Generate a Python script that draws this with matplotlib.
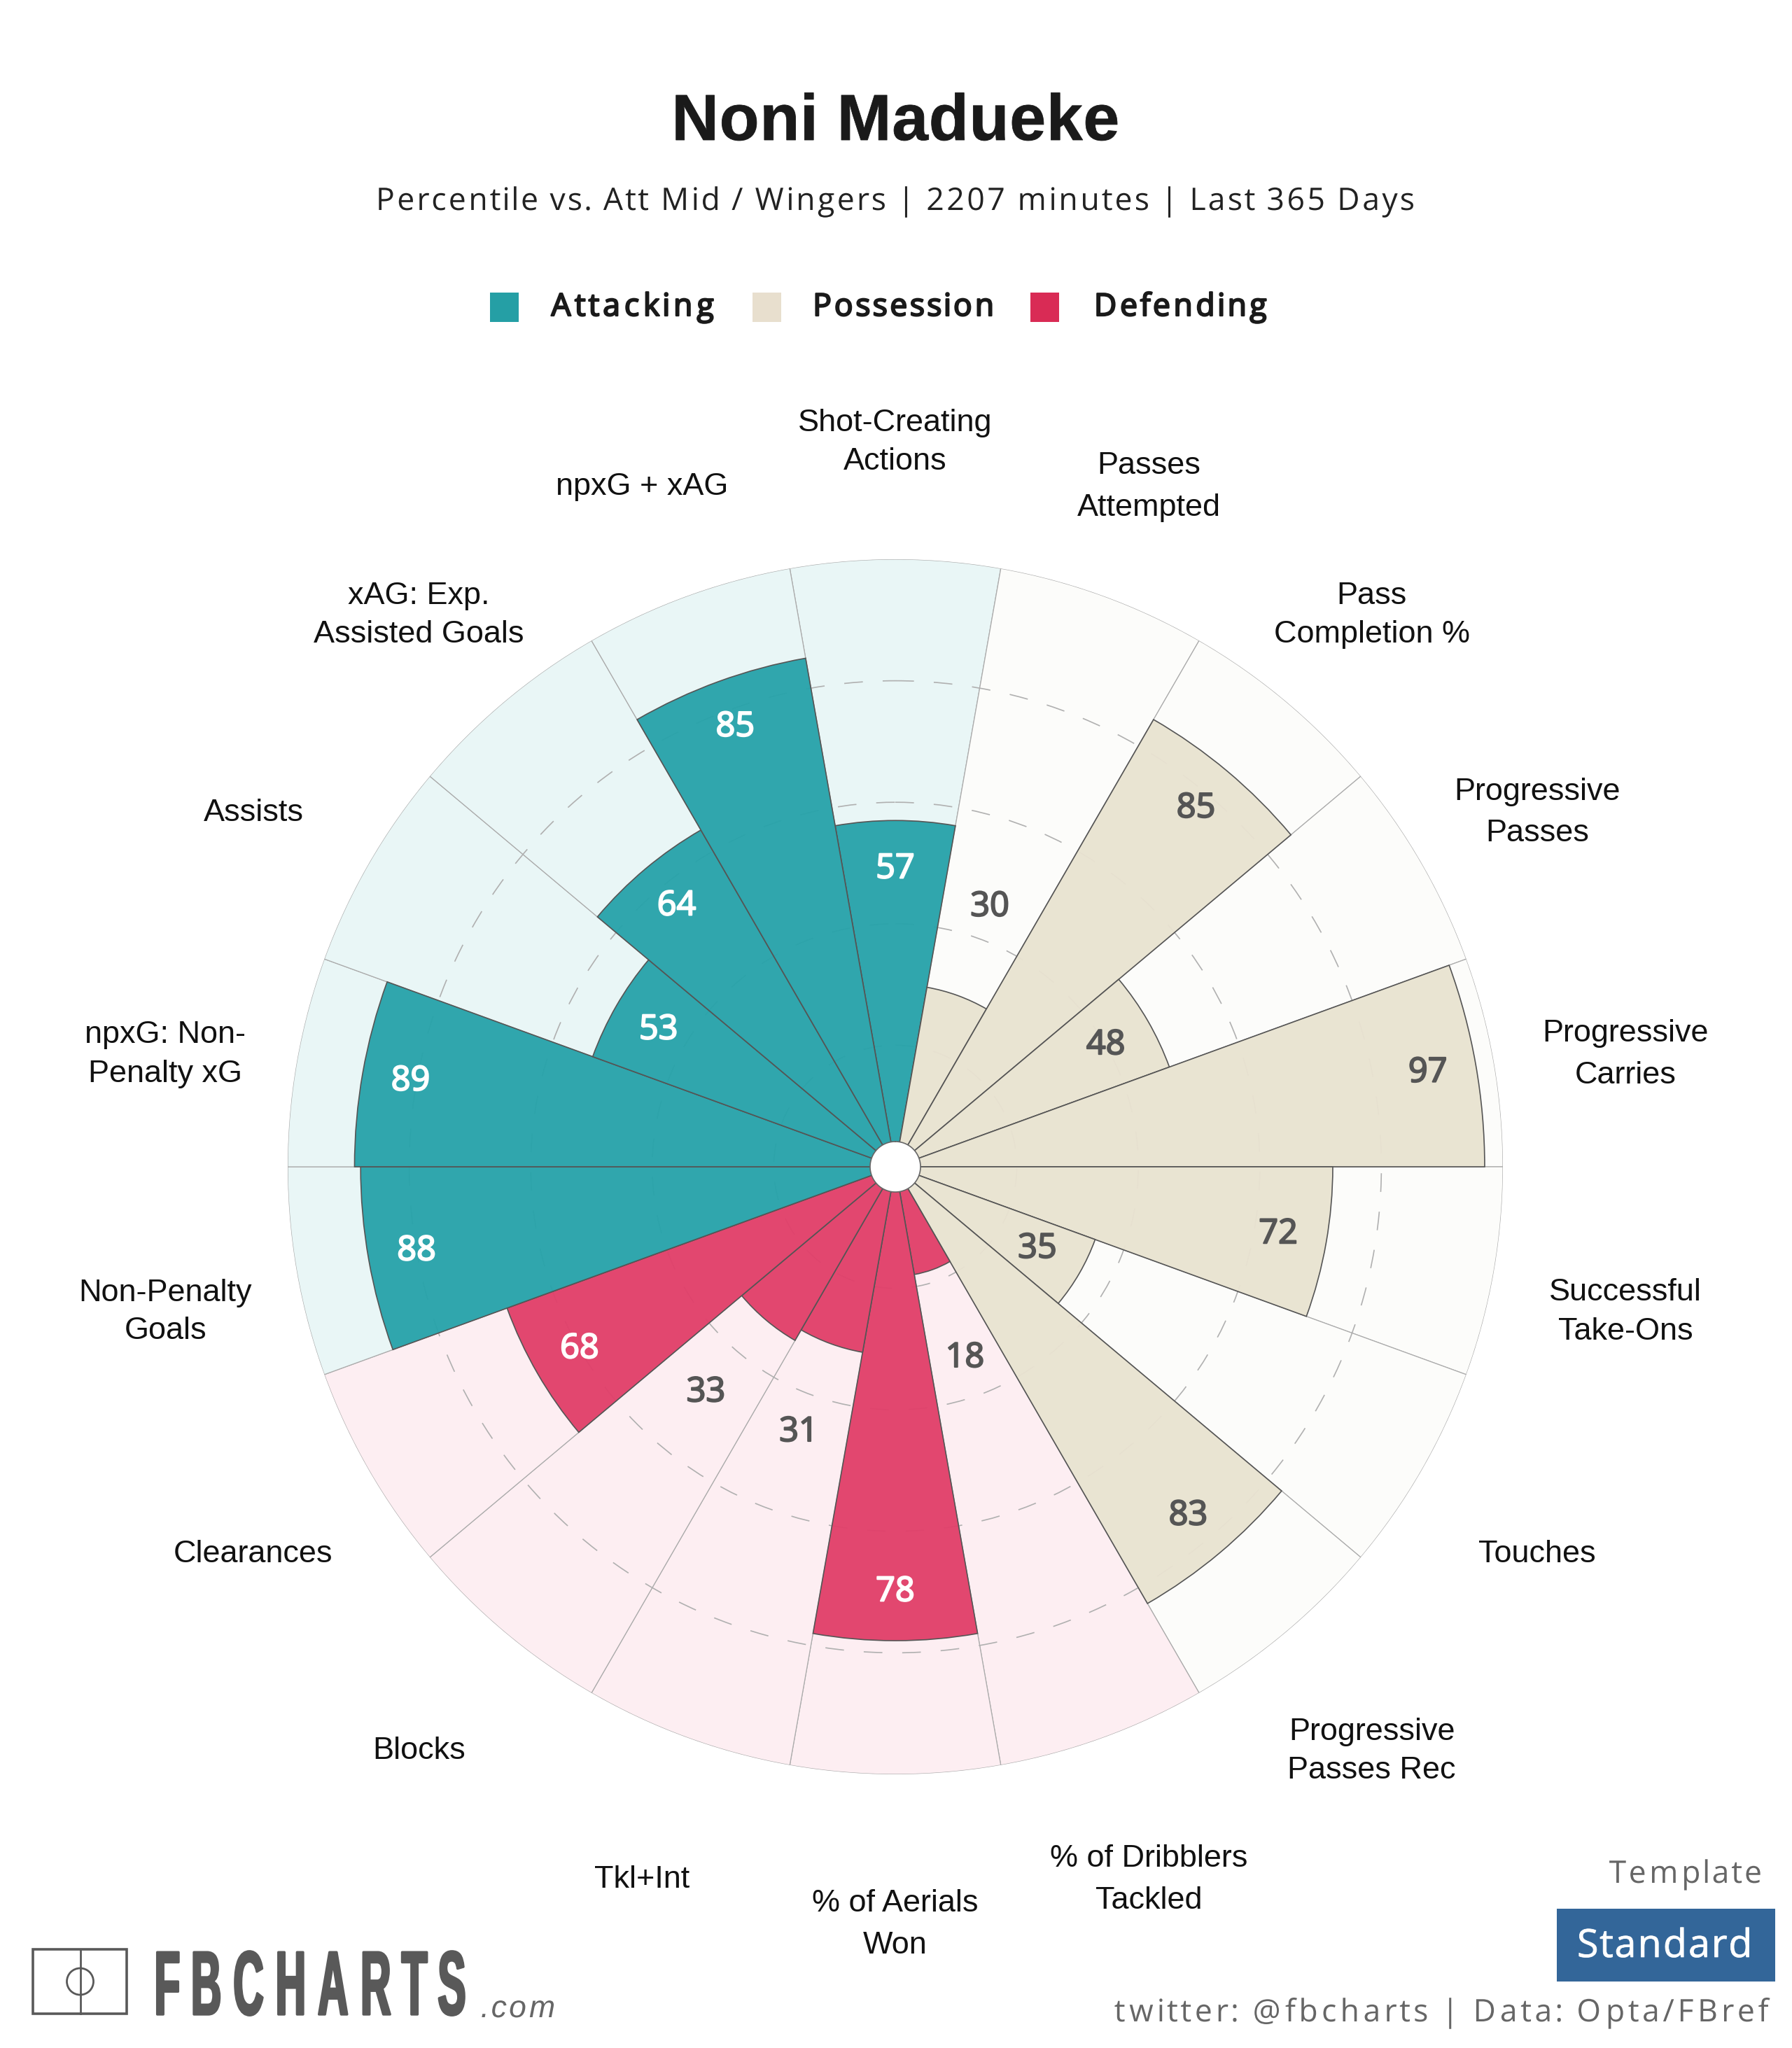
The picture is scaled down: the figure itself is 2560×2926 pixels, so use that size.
import numpy as np
import matplotlib
matplotlib.use("Agg")
import matplotlib.pyplot as plt
from matplotlib.patches import Rectangle, Ellipse
from matplotlib.lines import Line2D
from matplotlib.path import Path
from matplotlib.patheffects import AbstractPathEffect, Stroke, Normal
from matplotlib.transforms import IdentityTransform, Bbox

# ---------- data ----------
categories = ["Shot-Creating\nActions", "Passes\nAttempted", "Pass\nCompletion %",
              "Progressive\nPasses", "Progressive\nCarries", "Successful\nTake-Ons",
              "Touches", "Progressive\nPasses Rec", "% of Dribblers\nTackled",
              "% of Aerials\nWon", "Tkl+Int", "Blocks", "Clearances",
              "Non-Penalty\nGoals", "npxG: Non-\nPenalty xG", "Assists",
              "xAG: Exp.\nAssisted Goals", "npxG + xAG"]
values = [57, 30, 85, 48, 97, 72, 35, 83, 18, 78, 31, 33, 68, 88, 89, 53, 64, 85]
groups = ["A", "P", "P", "P", "P", "P", "P", "P", "D", "D", "D", "D", "D", "A", "A", "A", "A", "A"]
group_names = {"A": "Attacking", "P": "Possession", "D": "Defending"}
grid_ticks = [20, 40, 60, 80]

# ---------- styles ----------
bar_colors = {"A": "#28A3AA", "P": "#E9E3D1", "D": "#E1406A"}
bg_colors = {"A": "#E9F6F6", "P": "#FCFCFA", "D": "#FDEEF2"}
legend_colors = {"A": "#259FA5", "P": "#E8DFCE", "D": "#D92B55"}
value_colors = {"A": "white", "P": "#555555", "D": "white"}
label_spacing = [1.44, 1.58, 1.44, 1.58, 1.58, 1.44, 1.2, 1.44, 1.58, 1.58, 1.2, 1.2, 1.2,
                 1.4, 1.48, 1.2, 1.44, 1.2]

W, H = 2560, 2926
DPI = 200
plt.rcParams["font.family"] = ["Liberation Sans", "DejaVu Sans"]


class Track(AbstractPathEffect):
    """Letter-spacing for one text: spreads glyphs about x0, scales each by gsx (and gsy about
    the baseline y0), optional stroke."""
    def __init__(self, ps, x0, gsx=1.0, stroke=0.0, gsy=1.0, y0=0.0):
        super().__init__()
        self.ps, self.x0, self.gsx, self.stroke = ps, x0, gsx, stroke
        self.gsy, self.y0 = gsy, y0

    def draw_path(self, renderer, gc, tpath, affine, rgbFace=None):
        p = affine.transform_path(tpath)
        v = np.array(p.vertices, dtype=float)
        c = p.codes
        starts = np.flatnonzero(c == Path.MOVETO)
        ends = np.append(starts[1:], len(v))
        subs = []
        for s, e in zip(starts, ends):
            m = c[s:e] != Path.CLOSEPOLY
            xs = v[s:e][m, 0]
            subs.append((xs.min(), xs.max(), s, e))
        subs.sort()
        glyphs = []
        for sub in subs:
            if glyphs and sub[0] < glyphs[-1][1]:
                glyphs[-1][1] = max(glyphs[-1][1], sub[1])
                glyphs[-1][2].append(sub)
            else:
                glyphs.append([sub[0], sub[1], [sub]])
        out = v.copy()
        for a, b, parts in glyphs:
            mid = (a + b) / 2
            new_mid = self.x0 + (mid - self.x0) * self.ps
            for _, _, s, e in parts:
                out[s:e, 0] = new_mid + (v[s:e, 0] - mid) * self.gsx
        if self.gsy != 1.0:
            out[:, 1] = self.y0 + (v[:, 1] - self.y0) * self.gsy
        np_path = Path(out, c)
        gc0 = renderer.new_gc()
        gc0.copy_properties(gc)
        if self.stroke and rgbFace is not None:
            gc0.set_linewidth(self.stroke)
            gc0.set_foreground(rgbFace)
        renderer.draw_path(gc0, np_path, IdentityTransform(), rgbFace)
        gc0.restore()


fig = plt.figure(figsize=(W / DPI, H / DPI), dpi=DPI, facecolor="white")
canvas_renderer = fig.canvas.get_renderer()


def fx(x):
    return x / W


def fy(y):
    return 1 - y / H


def fit_text(s, x0, x1, y, gsx=1.0, stroke=0.0, gsy=1.0, **kw):
    """Real text whose drawn span runs from pixel x0 to pixel x1."""
    xa = (x0 + x1) / 2
    t = fig.text(fx(xa), fy(y), s, ha="center", va="baseline", **kw)
    orig = t.get_window_extent
    bb = orig(canvas_renderer)
    ps = (x1 - x0) / bb.width
    t.set_path_effects([Track(ps, xa, gsx, stroke, gsy, H - y)])

    def extent(renderer=None, dpi=None):
        b = orig(renderer, dpi)
        return Bbox.from_extents(x0, b.y0, x1, b.y1)
    t.get_window_extent = extent
    return t


CX, CY, R = 1279, 1667, 868
ax = fig.add_axes([fx(CX - R), fy(CY + R), 2 * R / W, 2 * R / H], projection="polar")
ax.set_theta_zero_location("N")
ax.set_theta_direction(-1)
ax.set_ylim(0, 100)
ax.patch.set_alpha(0)
ax.spines["polar"].set_visible(False)

n = len(values)
theta = np.deg2rad(np.arange(n) * 360 / n)
width = 2 * np.pi / n

ax.bar(theta, [100] * n, width=width, color=[bg_colors[g] for g in groups],
       edgecolor="#ABABAB", linewidth=0.45, zorder=0.1)
ax.set_axisbelow(True)
ax.set_yticks(grid_ticks)
ax.set_yticklabels([])
ax.set_xticks([])
ax.yaxis.grid(True, color="#B0B0B0", linewidth=0.6, linestyle=(0, (16, 17)))
ax.xaxis.grid(False)

ax.bar(theta, values, width=width,
       color=[matplotlib.colors.to_rgba(bar_colors[g], 0.96) for g in groups],
       edgecolor="#555555", linewidth=0.6, zorder=2)
hole_t = np.linspace(0, 2 * np.pi, 181)
ax.fill(hole_t, np.full_like(hole_t, 4.15), color="white", zorder=3, linewidth=0)
ax.plot(hole_t, np.full_like(hole_t, 4.15), color="#666666", linewidth=0.6, zorder=3.1)
ax.set_ylim(0, 100)

for t, v, g, lab, sp in zip(theta, values, groups, categories, label_spacing):
    if v < 35:
        rr, col = v + 15.5, "#555555"
    else:
        rr, col = v - 8.0, value_colors[g]
    ax.annotate(str(v), xy=(t, rr), ha="center", va="center", color=col, fontsize=17.5,
                family=["Open Sans"], zorder=5,
                path_effects=[Stroke(linewidth=0.75, foreground=col), Normal()])
    ax.annotate(lab, xy=(t, 122), xytext=(0, -8.5), textcoords="offset points",
                ha="center", va="center", ma="center", fontsize=16.2, color="#111111",
                linespacing=sp, annotation_clip=False)

# ---------- header ----------
fit_text("Noni Madueke", 959, 1599, 200, fontsize=33.5, fontweight="bold", color="#1a1a1a",
         stroke=0.3)
fit_text("Percentile vs. Att Mid / Wingers | 2207 minutes | Last 365 Days", 535, 2023, 300,
         fontsize=16, color="#222222", family=["Open Sans"])

legend_spans = {"A": (700, 784, 1023), "P": (1075, 1159, 1422), "D": (1472, 1560, 1812)}
for g, (sx, x0, x1) in legend_spans.items():
    fig.patches.append(Rectangle((fx(sx), fy(460)), 41 / W, 42 / H, transform=fig.transFigure,
                                 facecolor=legend_colors[g], edgecolor="none"))
    fit_text(group_names[g], x0, x1, 451, fontsize=16, color="#1a1a1a",
             family=["Open Sans"], stroke=0.8)

# ---------- logo ----------
logo_gray = "#595959"
fig.patches.append(Rectangle((fx(47), fy(2877)), 134 / W, 92 / H, transform=fig.transFigure,
                             facecolor="none", edgecolor=logo_gray, linewidth=1.3))
fig.add_artist(Line2D([fx(114.5), fx(114.5)], [fy(2785), fy(2877)], color=logo_gray, linewidth=1.0,
                      transform=fig.transFigure))
fig.patches.append(Ellipse((fx(114.5), fy(2831)), 38 / W, 38 / H, transform=fig.transFigure,
                           facecolor="none", edgecolor=logo_gray, linewidth=1.0))
fit_text("FBCHARTS", 213, 674, 2878, gsx=0.72, gsy=1.55, stroke=1.2, fontsize=30,
         fontweight="bold", color=logo_gray)
fit_text(".com", 686, 796, 2882, fontsize=16, style="italic", color="#666666")

# ---------- footer ----------
fit_text("Template", 2297, 2519, 2690, fontsize=16, color="#666666", family=["Open Sans"])
fig.patches.append(Rectangle((fx(2224), fy(2831)), 312 / W, 104 / H, transform=fig.transFigure,
                             facecolor="#336699", edgecolor="none"))
fit_text("Standard", 2252, 2504, 2796, fontsize=20, color="white", family=["Open Sans"], stroke=0.3)
fit_text("twitter: @fbcharts | Data: Opta/FBref", 1590, 2529, 2888, fontsize=16,
         color="#666666", family=["Open Sans"])

fig.savefig("out.png", dpi=DPI, facecolor="white")
